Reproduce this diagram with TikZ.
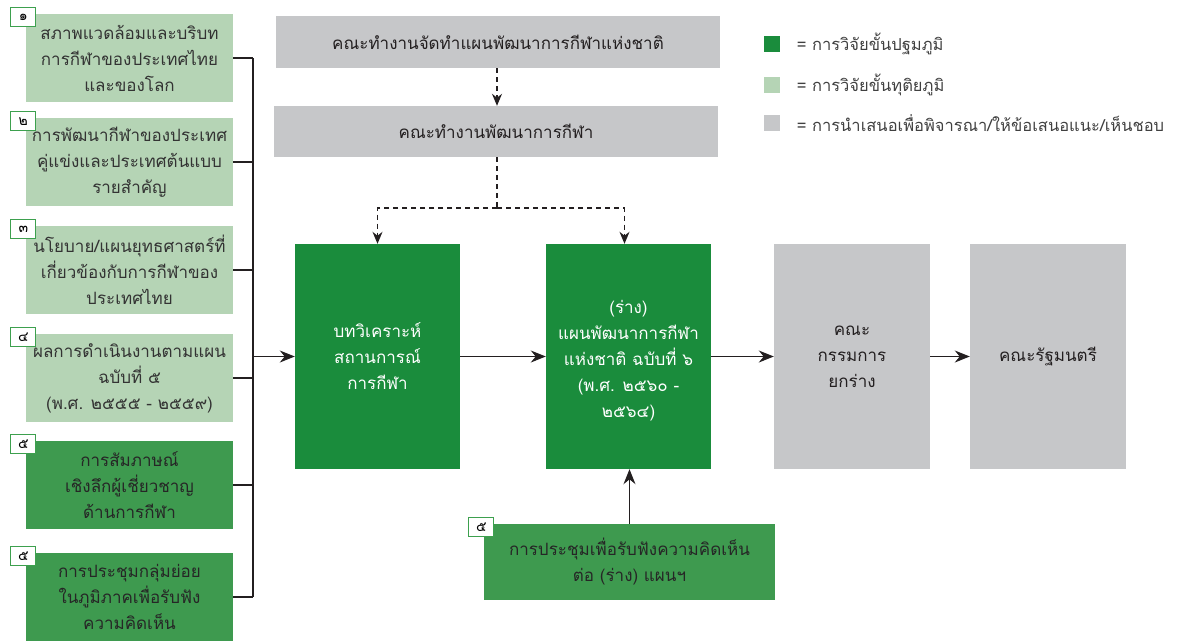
\documentclass[tikz,border=0pt]{standalone}
\usepackage{fontspec}
\newfontfamily\thaifont[Script=Thai]{Loma}
\usepackage{tikz}
\usetikzlibrary{arrows.meta,positioning}
\definecolor{primgreen}{HTML}{1A8C3C}
\definecolor{midgreen}{HTML}{3E9A4F}
\definecolor{secgreen}{HTML}{B5D4B5}
\definecolor{propgray}{HTML}{C6C7C9}
\definecolor{tabgreen}{HTML}{3DA04E}
\definecolor{inkgray}{HTML}{231F20}
\tikzstyle{box}=[inner sep=0pt, align=center, font=\thaifont\fontsize{17pt}{26pt}\selectfont]
\tikzstyle{srcbox}=[box, fill=secgreen, text=black!80, minimum width=207pt, minimum height=88pt]
\tikzstyle{fieldbox}=[box, fill=midgreen, text=black!85, minimum width=207pt, minimum height=88pt]
\tikzstyle{stagebox}=[box, fill=primgreen, text=white, minimum width=165pt, minimum height=225pt]
\tikzstyle{graybox}=[box, fill=propgray, text=inkgray]
\tikzstyle{tab}=[draw=tabgreen, line width=1.2pt, fill=white, minimum width=25pt, minimum height=19pt, inner sep=0pt, font=\thaifont\fontsize{14pt}{14pt}\selectfont]
\tikzstyle{legsq}=[minimum size=16pt, inner sep=0pt]
\tikzstyle{legtext}=[inner sep=0pt, anchor=west, text=black!75, font=\thaifont\fontsize{16.5pt}{18pt}\selectfont]
\tikzstyle{wire}=[draw=inkgray, line width=1.2pt]
\tikzstyle{arr}=[wire, -{Stealth[length=15pt,width=12pt]}]
\tikzstyle{darr}=[wire, -{Stealth[length=12pt,width=10pt]}, dash pattern=on 5pt off 4pt]

\begin{document}
\begin{tikzpicture}[x=1pt, y=-1pt]
  \useasboundingbox (0,0) rectangle (1177,641);
  % sources (left column)
  \node at (129.5,58) [srcbox] (s1) {สภาพแวดล้อมและบริบท\\การกีฬาของประเทศไทย\\และของโลก};
  \node at (129.5,162) [srcbox] (s2) {การพัฒนากีฬาของประเทศ\\คู่แข่งและประเทศต้นแบบ\\รายสำคัญ};
  \node at (129.5,270) [srcbox] (s3) {นโยบาย/แผนยุทธศาสตร์ที่\\เกี่ยวข้องกับการกีฬาของ\\ประเทศไทย};
  \node at (129.5,378) [srcbox] (s4) {ผลการดำเนินงานตามแผน\\ฉบับที่ ๕\\(พ.ศ. ๒๕๕๕ - ๒๕๕๙)};
  \node at (129.5,485) [fieldbox] (s5) {การสัมภาษณ์\\เชิงลึกผู้เชี่ยวชาญ\\ด้านการกีฬา};
  \node at (129.5,597) [fieldbox] (s6) {การประชุมกลุ่มย่อย\\ในภูมิภาคเพื่อรับฟัง\\ความคิดเห็น};
  \foreach \i/\num in {1/๑,2/๒,3/๓,4/๔,5/๕,6/๕}
    \node at ([xshift=-2.5pt,yshift=-3.5pt]s\i.north west) [tab] (t\i) {\num};
  % working groups
  \node at (498,42) [graybox, minimum width=444pt, minimum height=52pt] (wg1) {คณะทำงานจัดทำแผนพัฒนาการกีฬาแห่งชาติ};
  \node at (496,131.5) [graybox, minimum width=444pt, minimum height=51pt] (wg2) {คณะทำงานพัฒนาการกีฬา};
  % main stages
  \node at (377.5,356.5) [stagebox] (anal) {บทวิเคราะห์\\สถานการณ์\\การกีฬา};
  \node at (628.5,356.5) [stagebox] (draft) {\\[-4pt](ร่าง)\\แผนพัฒนาการกีฬา\\แห่งชาติ ฉบับที่ ๖\\(พ.ศ. ๒๕๖๐ -\\๒๕๖๔)};
  \node at (852,356.5) [graybox, minimum width=156pt, minimum height=225pt] (comm) {คณะ\\กรรมการ\\ยกร่าง};
  \node at (1048,356.5) [graybox, minimum width=156pt, minimum height=225pt] (cab) {คณะรัฐมนตรี};
  \node at (629.5,562) [fieldbox, minimum width=291pt, minimum height=76pt] (hear) {การประชุมเพื่อรับฟังความคิดเห็น\\ต่อ (ร่าง) แผนฯ};
  \node at ([xshift=-2.5pt,yshift=-3.5pt]hear.north west) [tab] (t7) {๕};
  % legend
  \node at (771.5,44) [legsq, fill=primgreen] (k1) {};
  \node at (771.5,85) [legsq, fill=secgreen] (k2) {};
  \node at (771.5,123) [legsq, fill=propgray] (k3) {};
  \node [legtext, right=17pt of k1] (l1) {= การวิจัยขั้นปฐมภูมิ};
  \node [legtext, right=17pt of k2] (l2) {= การวิจัยขั้นทุติยภูมิ};
  \node [legtext, right=17pt of k3] (l3) {= การนำเสนอเพื่อพิจารณา/ให้ข้อเสนอแนะ/เห็นชอบ};
  % connectors
  \coordinate (bus) at (253,356.5);
  \coordinate (split) at (497,208);
  \foreach \i in {1,...,6}
    \draw [wire] (s\i.east) -- (s\i.east -| bus);
  \draw [wire] (s1.east -| bus) -- (s6.east -| bus);
  \draw [arr] (bus) -- (anal.west);
  \draw [arr] (anal) -- (draft);
  \draw [arr] (draft) -- (comm);
  \draw [arr] (comm) -- (cab);
  \draw [arr] (hear.north) -- (hear.north |- draft.south);
  \draw [darr] (wg1.south -| split) -- (wg2.north -| split);
  \draw [wire, dash pattern=on 5pt off 4pt] (wg2.south -| split) -- (split);
  \draw [darr] (split) -| (anal.north);
  \draw [darr] (split) -| ([xshift=-4pt]draft.north);
\end{tikzpicture}
\end{document}
